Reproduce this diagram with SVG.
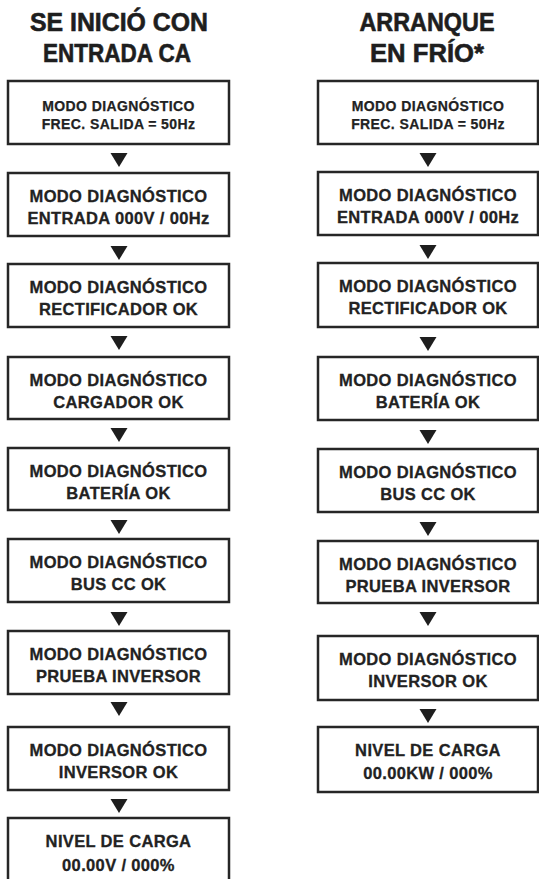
<svg xmlns="http://www.w3.org/2000/svg" width="539" height="879" viewBox="0 0 539 879">
<style>
.title{font-family:"Liberation Sans",Arial,sans-serif;font-weight:bold;font-size:25px;fill:#1e1e1e;stroke:#1e1e1e;stroke-width:0.6;text-anchor:middle}
.box{fill:#fff;stroke:#262626;stroke-width:2.5}
.t{font-family:"Liberation Sans",Arial,sans-serif;font-weight:bold;font-size:16.5px;letter-spacing:0.35px;fill:#222;stroke:#222;stroke-width:0.3;text-anchor:middle}
.ts{font-family:"Liberation Sans",Arial,sans-serif;font-weight:bold;font-size:14px;letter-spacing:0.4px;fill:#222;stroke:#222;stroke-width:0.25;text-anchor:middle}
.arr{fill:#1e1e1e}
</style>
<rect width="539" height="879" fill="#fff"/>
<g id="title-left">
<text class="title" x="119" y="31" textLength="178" lengthAdjust="spacingAndGlyphs">SE INICIÓ CON</text>
<text class="title" x="117" y="62" textLength="148" lengthAdjust="spacingAndGlyphs">ENTRADA CA</text>
</g>
<g id="title-right">
<text class="title" x="427" y="31" textLength="135" lengthAdjust="spacingAndGlyphs">ARRANQUE</text>
<text class="title" x="427" y="62" textLength="114" lengthAdjust="spacingAndGlyphs">EN FRÍO*</text>
</g>
<g id="connectors">
<path class="arr" d="M110.5 153 L127.5 153 L119 167 Z"/>
<path class="arr" d="M110.5 246 L127.5 246 L119 260 Z"/>
<path class="arr" d="M110.5 336 L127.5 336 L119 350 Z"/>
<path class="arr" d="M110.5 428 L127.5 428 L119 442 Z"/>
<path class="arr" d="M110.5 520 L127.5 520 L119 534 Z"/>
<path class="arr" d="M110.5 612 L127.5 612 L119 626 Z"/>
<path class="arr" d="M110.5 702 L127.5 702 L119 716 Z"/>
<path class="arr" d="M110.5 799 L127.5 799 L119 813 Z"/>
<path class="arr" d="M419.5 153 L436.5 153 L428 167 Z"/>
<path class="arr" d="M419.5 245 L436.5 245 L428 259 Z"/>
<path class="arr" d="M419.5 337 L436.5 337 L428 351 Z"/>
<path class="arr" d="M419.5 430 L436.5 430 L428 444 Z"/>
<path class="arr" d="M419.5 522 L436.5 522 L428 536 Z"/>
<path class="arr" d="M419.5 612 L436.5 612 L428 626 Z"/>
<path class="arr" d="M419.5 709 L436.5 709 L428 723 Z"/>
</g>
<g id="L1"><rect class="box" x="8" y="81" width="221" height="63"/><text class="ts" x="118.5" y="111">MODO DIAGNÓSTICO</text><text class="ts" x="118.5" y="129">FREC. SALIDA = 50Hz</text></g>
<g id="L2"><rect class="box" x="8" y="173" width="221" height="63"/><text class="t" x="118.5" y="202">MODO DIAGNÓSTICO</text><text class="t" x="118.5" y="224">ENTRADA 000V / 00Hz</text></g>
<g id="L3"><rect class="box" x="8" y="264" width="221" height="63"/><text class="t" x="118.5" y="293">MODO DIAGNÓSTICO</text><text class="t" x="118.5" y="315">RECTIFICADOR OK</text></g>
<g id="L4"><rect class="box" x="8" y="357" width="221" height="62"/><text class="t" x="118.5" y="386">MODO DIAGNÓSTICO</text><text class="t" x="118.5" y="408">CARGADOR OK</text></g>
<g id="L5"><rect class="box" x="8" y="448" width="221" height="62"/><text class="t" x="118.5" y="477">MODO DIAGNÓSTICO</text><text class="t" x="118.5" y="499">BATERÍA OK</text></g>
<g id="L6"><rect class="box" x="8" y="539" width="221" height="63"/><text class="t" x="118.5" y="568">MODO DIAGNÓSTICO</text><text class="t" x="118.5" y="590">BUS CC OK</text></g>
<g id="L7"><rect class="box" x="8" y="631" width="221" height="63"/><text class="t" x="118.5" y="660">MODO DIAGNÓSTICO</text><text class="t" x="118.5" y="682">PRUEBA INVERSOR</text></g>
<g id="L8"><rect class="box" x="8" y="727" width="221" height="63"/><text class="t" x="118.5" y="756">MODO DIAGNÓSTICO</text><text class="t" x="118.5" y="778">INVERSOR OK</text></g>
<g id="L9"><rect class="box" x="8" y="818" width="221" height="66"/><text class="t" x="118.5" y="847">NIVEL DE CARGA</text><text class="t" x="118.5" y="871">00.00V / 000%</text></g>
<g id="R1"><rect class="box" x="318" y="81" width="220" height="63"/><text class="ts" x="428" y="111">MODO DIAGNÓSTICO</text><text class="ts" x="428" y="129">FREC. SALIDA = 50Hz</text></g>
<g id="R2"><rect class="box" x="318" y="172" width="220" height="63"/><text class="t" x="428" y="201">MODO DIAGNÓSTICO</text><text class="t" x="428" y="223">ENTRADA 000V / 00Hz</text></g>
<g id="R3"><rect class="box" x="318" y="263" width="220" height="64"/><text class="t" x="428" y="292">MODO DIAGNÓSTICO</text><text class="t" x="428" y="314">RECTIFICADOR OK</text></g>
<g id="R4"><rect class="box" x="318" y="357" width="220" height="63"/><text class="t" x="428" y="386">MODO DIAGNÓSTICO</text><text class="t" x="428" y="408">BATERÍA OK</text></g>
<g id="R5"><rect class="box" x="318" y="449" width="220" height="63"/><text class="t" x="428" y="478">MODO DIAGNÓSTICO</text><text class="t" x="428" y="500">BUS CC OK</text></g>
<g id="R6"><rect class="box" x="318" y="541" width="220" height="62"/><text class="t" x="428" y="570">MODO DIAGNÓSTICO</text><text class="t" x="428" y="592">PRUEBA INVERSOR</text></g>
<g id="R7"><rect class="box" x="318" y="636" width="220" height="64"/><text class="t" x="428" y="665">MODO DIAGNÓSTICO</text><text class="t" x="428" y="687">INVERSOR OK</text></g>
<g id="R8"><rect class="box" x="318" y="727" width="220" height="65"/><text class="t" x="428" y="756">NIVEL DE CARGA</text><text class="t" x="428" y="779">00.00KW / 000%</text></g>
</svg>
